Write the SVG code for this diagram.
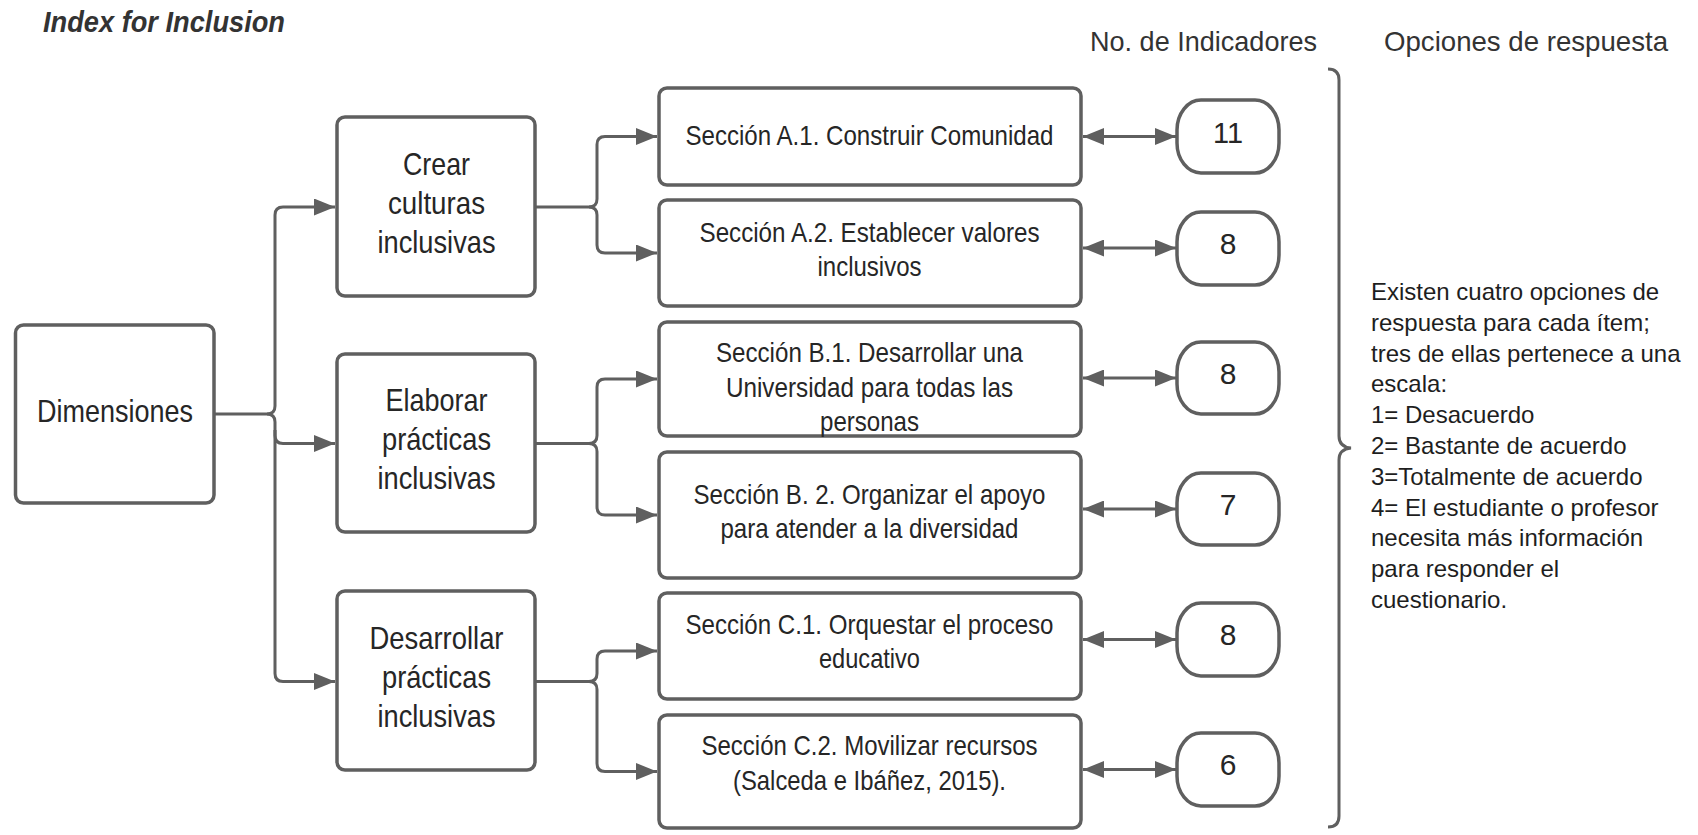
<svg xmlns="http://www.w3.org/2000/svg" width="1698" height="835" viewBox="0 0 1698 835">
<defs>
<marker id="ah" viewBox="0 0 21 17" refX="21" refY="8.5" markerWidth="21" markerHeight="17" markerUnits="userSpaceOnUse" orient="auto-start-reverse"><path d="M0,0 L21,8.5 L0,17 z" fill="#5f5f5f"/></marker>
<style>
.box{fill:#fff;stroke:#5f5f5f;stroke-width:3.5}
.con{fill:none;stroke:#5f5f5f;stroke-width:3}
.t{font-family:"Liberation Sans Narrow","Liberation Sans",Arial,sans-serif;fill:#262626;text-anchor:middle}
.lab{font-size:32px}
.sec{font-size:28.5px}
.num{font-size:30px}
.hd{font-family:"Liberation Sans Narrow","Liberation Sans",Arial,sans-serif;fill:#333;font-size:28px}
.rt{font-family:"Liberation Sans",Arial,sans-serif;fill:#1e1e1e;font-size:24px}
</style>
</defs>
<rect width="1698" height="835" fill="#fff"/>

<text x="43" y="32" font-family="Liberation Sans Narrow, Liberation Sans, Arial, sans-serif" font-size="30" font-weight="bold" font-style="italic" fill="#333" textLength="242" lengthAdjust="spacingAndGlyphs">Index for Inclusion</text>
<text class="hd" x="1090" y="51" textLength="227" lengthAdjust="spacingAndGlyphs">No. de Indicadores</text>
<text class="hd" x="1384" y="51" textLength="284" lengthAdjust="spacingAndGlyphs">Opciones de respuesta</text>

<g id="connectors">
<path class="con" d="M214,414 H267 Q275,414 275,406 V215 Q275,207 283,207 H335" marker-end="url(#ah)"/>
<path class="con" d="M267,414 Q275,414 275,422 V673.5 Q275,681.5 283,681.5 H335" marker-end="url(#ah)"/>
<path class="con" d="M275,430 V435.5 Q275,443.5 283,443.5 H335" marker-end="url(#ah)"/>
<path class="con" d="M535,207 H589 Q597,207 597,199 V144.5 Q597,136.5 605,136.5 H657" marker-end="url(#ah)"/>
<path class="con" d="M589,207 Q597,207 597,215 V245 Q597,253 605,253 H657" marker-end="url(#ah)"/>
<path class="con" d="M535,443.5 H589 Q597,443.5 597,435.5 V387 Q597,379 605,379 H657" marker-end="url(#ah)"/>
<path class="con" d="M589,443.5 Q597,443.5 597,451.5 V507 Q597,515 605,515 H657" marker-end="url(#ah)"/>
<path class="con" d="M535,681.5 H589 Q597,681.5 597,673.5 V659 Q597,651 605,651 H657" marker-end="url(#ah)"/>
<path class="con" d="M589,681.5 Q597,681.5 597,689.5 V763.5 Q597,771.5 605,771.5 H657" marker-end="url(#ah)"/>
<path class="con" d="M1083,136.5 H1176" marker-start="url(#ah)" marker-end="url(#ah)"/>
<path class="con" d="M1083,248 H1176" marker-start="url(#ah)" marker-end="url(#ah)"/>
<path class="con" d="M1083,378 H1176" marker-start="url(#ah)" marker-end="url(#ah)"/>
<path class="con" d="M1083,509 H1176" marker-start="url(#ah)" marker-end="url(#ah)"/>
<path class="con" d="M1083,639.5 H1176" marker-start="url(#ah)" marker-end="url(#ah)"/>
<path class="con" d="M1083,769.5 H1176" marker-start="url(#ah)" marker-end="url(#ah)"/>
<path class="con" d="M1328,69 Q1339,69 1339,80 V436 Q1339,447 1351,448 Q1339,449 1339,460 V816 Q1339,827 1328,827"/>
</g>

<g id="dimensiones">
<rect class="box" x="15.5" y="325" width="198.5" height="178" rx="8"/>
<text class="t lab" x="115" y="422" textLength="156" lengthAdjust="spacingAndGlyphs">Dimensiones</text>
</g>

<g id="crear">
<rect class="box" x="337" y="117" width="198" height="179" rx="8"/>
<text class="t lab" x="436.5" y="175" textLength="67" lengthAdjust="spacingAndGlyphs">Crear</text>
<text class="t lab" x="436.5" y="214" textLength="97" lengthAdjust="spacingAndGlyphs">culturas</text>
<text class="t lab" x="436.5" y="253" textLength="118" lengthAdjust="spacingAndGlyphs">inclusivas</text>
</g>

<g id="elaborar">
<rect class="box" x="337" y="354" width="198" height="178" rx="8"/>
<text class="t lab" x="436.5" y="411" textLength="102" lengthAdjust="spacingAndGlyphs">Elaborar</text>
<text class="t lab" x="436.5" y="450" textLength="109" lengthAdjust="spacingAndGlyphs">prácticas</text>
<text class="t lab" x="436.5" y="489" textLength="118" lengthAdjust="spacingAndGlyphs">inclusivas</text>
</g>

<g id="desarrollar">
<rect class="box" x="337" y="591" width="198" height="179" rx="8"/>
<text class="t lab" x="436.5" y="649" textLength="134" lengthAdjust="spacingAndGlyphs">Desarrollar</text>
<text class="t lab" x="436.5" y="688" textLength="109" lengthAdjust="spacingAndGlyphs">prácticas</text>
<text class="t lab" x="436.5" y="727" textLength="118" lengthAdjust="spacingAndGlyphs">inclusivas</text>
</g>

<g id="secA1">
<rect class="box" x="659" y="88" width="422" height="97" rx="8"/>
<text class="t sec" x="869.5" y="145" textLength="368" lengthAdjust="spacingAndGlyphs">Sección A.1. Construir Comunidad</text>
</g>
<g id="secA2">
<rect class="box" x="659" y="200" width="422" height="106" rx="8"/>
<text class="t sec" x="869.5" y="242" textLength="340" lengthAdjust="spacingAndGlyphs">Sección A.2. Establecer valores</text>
<text class="t sec" x="869.5" y="276" textLength="104" lengthAdjust="spacingAndGlyphs">inclusivos</text>
</g>
<g id="secB1">
<rect class="box" x="659" y="322" width="422" height="114" rx="8"/>
<text class="t sec" x="869.5" y="362" textLength="307" lengthAdjust="spacingAndGlyphs">Sección B.1. Desarrollar una</text>
<text class="t sec" x="869.5" y="396.5" textLength="287" lengthAdjust="spacingAndGlyphs">Universidad para todas las</text>
<text class="t sec" x="869.5" y="431" textLength="99" lengthAdjust="spacingAndGlyphs">personas</text>
</g>
<g id="secB2">
<rect class="box" x="659" y="452" width="422" height="126" rx="8"/>
<text class="t sec" x="869.5" y="504" textLength="352" lengthAdjust="spacingAndGlyphs">Sección B. 2. Organizar el apoyo</text>
<text class="t sec" x="869.5" y="538" textLength="298" lengthAdjust="spacingAndGlyphs">para atender a la diversidad</text>
</g>
<g id="secC1">
<rect class="box" x="659" y="593" width="422" height="106" rx="8"/>
<text class="t sec" x="869.5" y="634" textLength="368" lengthAdjust="spacingAndGlyphs">Sección C.1. Orquestar el proceso</text>
<text class="t sec" x="869.5" y="668" textLength="101" lengthAdjust="spacingAndGlyphs">educativo</text>
</g>
<g id="secC2">
<rect class="box" x="659" y="715" width="422" height="113" rx="8"/>
<text class="t sec" x="869.5" y="755" textLength="336" lengthAdjust="spacingAndGlyphs">Sección C.2. Movilizar recursos</text>
<text class="t sec" x="869.5" y="790" textLength="273" lengthAdjust="spacingAndGlyphs">(Salceda e Ibáñez, 2015).</text>
</g>

<g id="n1"><rect class="box" x="1177" y="100" width="102" height="73" rx="24" ry="30"/><text class="t num" x="1228" y="143" textLength="30" lengthAdjust="spacingAndGlyphs">11</text></g>
<g id="n2"><rect class="box" x="1177" y="212" width="102" height="73" rx="24" ry="30"/><text class="t num" x="1228" y="254">8</text></g>
<g id="n3"><rect class="box" x="1177" y="342" width="102" height="72" rx="24" ry="30"/><text class="t num" x="1228" y="384">8</text></g>
<g id="n4"><rect class="box" x="1177" y="473" width="102" height="72" rx="24" ry="30"/><text class="t num" x="1228" y="515">7</text></g>
<g id="n5"><rect class="box" x="1177" y="603" width="102" height="73" rx="24" ry="30"/><text class="t num" x="1228" y="645">8</text></g>
<g id="n6"><rect class="box" x="1177" y="733" width="102" height="73" rx="24" ry="30"/><text class="t num" x="1228" y="775">6</text></g>

<g id="opciones">
<text class="rt" x="1371" y="300">Existen cuatro opciones de</text>
<text class="rt" x="1371" y="330.8">respuesta para cada ítem;</text>
<text class="rt" x="1371" y="361.6">tres de ellas pertenece a una</text>
<text class="rt" x="1371" y="392.4">escala:</text>
<text class="rt" x="1371" y="423.2">1= Desacuerdo</text>
<text class="rt" x="1371" y="454">2= Bastante de acuerdo</text>
<text class="rt" x="1371" y="484.8">3=Totalmente de acuerdo</text>
<text class="rt" x="1371" y="515.6">4= El estudiante o profesor</text>
<text class="rt" x="1371" y="546.4">necesita más información</text>
<text class="rt" x="1371" y="577.2">para responder el</text>
<text class="rt" x="1371" y="608">cuestionario.</text>
</g>
</svg>
